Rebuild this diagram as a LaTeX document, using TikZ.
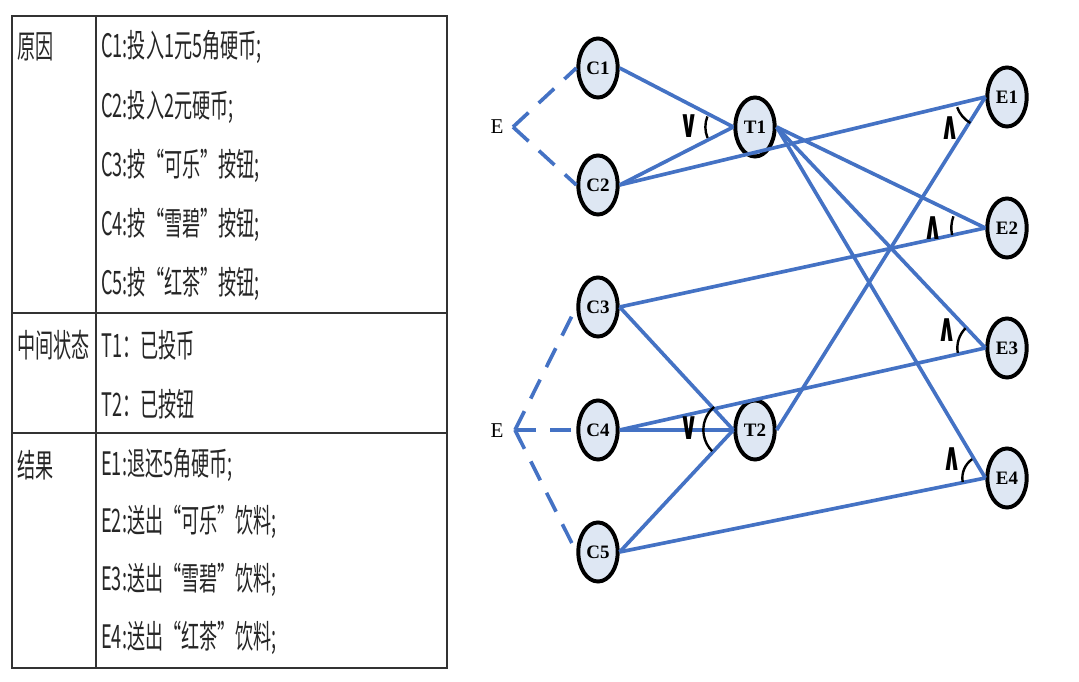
\documentclass[tikz,border=0pt]{standalone}
\usepackage{fontspec}
\setmainfont{Liberation Serif}
\newfontfamily\cjk[FakeStretch=0.56]{Noto Sans CJK SC}
\newfontfamily\opfont[FakeStretch=0.6]{DejaVu Sans}
\usetikzlibrary{calc,shapes.geometric}
\definecolor{EdgeBlue}{RGB}{68,114,196}
\definecolor{NodeFill}{RGB}{222,231,243}
\tikzset{
 ceg node/.style={ellipse,draw=black,line width=2.8pt,fill=NodeFill,
                  minimum width=28pt,minimum height=42pt,inner sep=0pt,
                  font=\fontsize{13.5}{15}\selectfont\bfseries},
 ceg edge/.style={line width=2.6pt,EdgeBlue},
 ceg dashed/.style={ceg edge,dash pattern=on 15pt off 10pt},
 ceg arc/.style={line width=1.7pt,black},
 ceg op/.style={font=\opfont\bfseries\fontsize{28}{30}\selectfont},
 ceg cause/.style={font=\fontsize{15}{17}\selectfont},
 tbl text/.style={anchor=west,inner sep=0pt,font=\cjk\fontsize{23}{26}\selectfont,text=black!85},
 tbl rule/.style={line width=1.2pt,black!80}
}
\begin{document}
\begin{tikzpicture}[x=0.025cm,y=0.025cm]
 \useasboundingbox (0,0) rectangle (1079,682);
 % table
 \draw[tbl rule] (12,14) rectangle (447,666);
 \draw[tbl rule] (96,14) -- (96,666);
 \draw[tbl rule] (12,369) -- (447,369);
 \draw[tbl rule] (12,249) -- (447,249);
 \node[tbl text] (hdC) at (17,635) {原因};
 \node[tbl text] (hdT) at (17,337) {中间状态};
 \node[tbl text] (hdE) at (17,217) {结果};
 \foreach \n/\y/\t in {c1/635/{C1:投入1元5角硬币;},c2/575/{C2:投入2元硬币;},
   c3/516/{C3:按“可乐”按钮;},c4/457/{C4:按“雪碧”按钮;},c5/398/{C5:按“红茶”按钮;},
   t1/337/{T1：已投币},t2/278/{T2：已按钮},
   e1/217/{E1:退还5角硬币;},e2/160/{E2:送出“可乐”饮料;},
   e3/102/{E3:送出“雪碧”饮料;},e4/44/{E4:送出“红茶”饮料;}}{
   \node[tbl text] (row\n) at (101,\y) {\t};
 }
 % cause-effect graph
 \foreach \n/\x/\y in {C1/598/614,C2/598/497,C3/598/375,C4/598/252,C5/598/130,
   T1/755/555,T2/755/252,E1/1007/585,E2/1007/454,E3/1007/334,E4/1007/204}{
   \node[ceg node] (\n) at (\x,\y) {\n};
 }
 \node[ceg cause] (Ea) at (497,555) {E};
 \node[ceg cause] (Eb) at (497,251) {E};
 \coordinate (Ea v) at (513,555);
 \coordinate (Eb v) at (515,252);
 \foreach \a/\b in {Ea v/C1,Ea v/C2,Eb v/C3,Eb v/C4,Eb v/C5}{\draw[ceg dashed] (\a)--(\b.west);}
 \foreach \a/\b in {C1/T1,C2/T1,C2/E1,C3/T2,C3/E2,C4/T2,C4/E3,C5/T2,C5/E4,
   T1/E2,T1/E3,T1/E4,T2/E1}{\draw[ceg edge] (\a.east)--(\b.west);}
 \foreach \v/\r/\s/\e in {T1/28/158/203,T2/30/130/225,E1/30/200/240,
   E2/34/160/192,E3/28/135/190,E4/23/125/190}{
   \draw[ceg arc] ([shift={(\s:\r)}]\v.west) arc[start angle=\s,end angle=\e,radius=\r];
 }
 \foreach \n/\x/\y/\t in {orT1/689/556/∨,orT2/689/254/∨,andE1/950/554/∧,
   andE2/933/454/∧,andE3/947/352/∧,andE4/952/223/∧}{
   \node[ceg op] (\n) at (\x,\y) {\t};
 }
\end{tikzpicture}
\end{document}
